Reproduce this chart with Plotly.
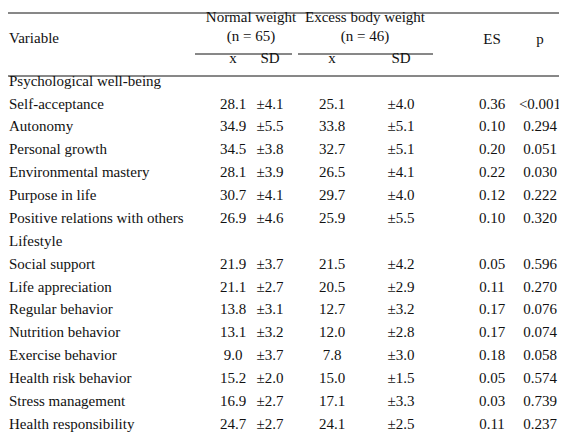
import plotly.graph_objects as go

variables = ["Psychological well-being", "Self-acceptance", "Autonomy", "Personal growth",
             "Environmental mastery", "Purpose in life", "Positive relations with others",
             "Lifestyle", "Social support", "Life appreciation", "Regular behavior",
             "Nutrition behavior", "Exercise behavior", "Health risk behavior",
             "Stress management", "Health responsibility"]
nw_mean = ["", "28.1", "34.9", "34.5", "28.1", "30.7", "26.9", "", "21.9", "21.1", "13.8", "13.1", "9.0", "15.2", "16.9", "24.7"]
nw_sd = ["", "±4.1", "±5.5", "±3.8", "±3.9", "±4.1", "±4.6", "", "±3.7", "±2.7", "±3.1", "±3.2", "±3.7", "±2.0", "±2.7", "±2.7"]
ex_mean = ["", "25.1", "33.8", "32.7", "26.5", "29.7", "25.9", "", "21.5", "20.5", "12.7", "12.0", "7.8", "15.0", "17.1", "24.1"]
ex_sd = ["", "±4.0", "±5.1", "±5.1", "±4.1", "±4.0", "±5.5", "", "±4.2", "±2.9", "±3.2", "±2.8", "±3.0", "±1.5", "±3.3", "±2.5"]
es = ["", "0.36", "0.10", "0.20", "0.22", "0.12", "0.10", "", "0.05", "0.11", "0.17", "0.17", "0.18", "0.05", "0.03", "0.11"]
pval = ["", "<0.001", "0.294", "0.051", "0.030", "0.222", "0.320", "", "0.596", "0.270", "0.076", "0.074", "0.058", "0.574", "0.739", "0.237"]

FONT = dict(family="Liberation Serif, Times New Roman, serif", size=15, color="#111")
DY = -6
row_y = [80 + DY + i * 22.87 for i in range(len(variables))]
col_x = [225, 262, 324, 393, 484, 532]

fig = go.Figure()
fig.add_trace(go.Scatter(x=[1] * len(variables), y=row_y, text=variables, mode="text",
                         textposition="middle right", textfont=FONT, hoverinfo="skip"))
for cx, col in zip(col_x, [nw_mean, nw_sd, ex_mean, ex_sd, es, pval]):
    fig.add_trace(go.Scatter(x=[cx] * len(col), y=row_y, text=col, mode="text",
                             textposition="middle center", textfont=FONT, hoverinfo="skip"))

hdr_x = [243, 243, 357, 357, 225, 262, 324, 393, 484, 532]
hdr_y = [y + DY for y in [16, 35, 16, 35, 57, 57, 57, 57, 38, 38]]
hdr_t = ["Normal weight", "(n = 65)", "Excess body weight", "(n = 46)", "x", "SD", "x", "SD", "ES", "p"]
fig.add_trace(go.Scatter(x=hdr_x, y=hdr_y, text=hdr_t, mode="text", textposition="middle center",
                         textfont=FONT, hoverinfo="skip"))
fig.add_trace(go.Scatter(x=[1], y=[37 + DY], text=["Variable"], mode="text", textposition="middle right",
                         textfont=FONT, hoverinfo="skip"))

for x0, x1, y in [(0, 567, 5), (187, 284, 46), (290, 425, 46), (0, 567, 68), (0, 567, 434)]:
    fig.add_shape(type="line", x0=x0, x1=x1, y0=y, y1=y, line=dict(color="#111", width=1))

fig.update_layout(width=567, height=436, margin=dict(l=0, r=0, t=0, b=0),
                  plot_bgcolor="white", paper_bgcolor="white", showlegend=False,
                  xaxis=dict(range=[0, 567], visible=False, fixedrange=True),
                  yaxis=dict(range=[436, 0], visible=False, fixedrange=True))
fig.write_html("out.html")
